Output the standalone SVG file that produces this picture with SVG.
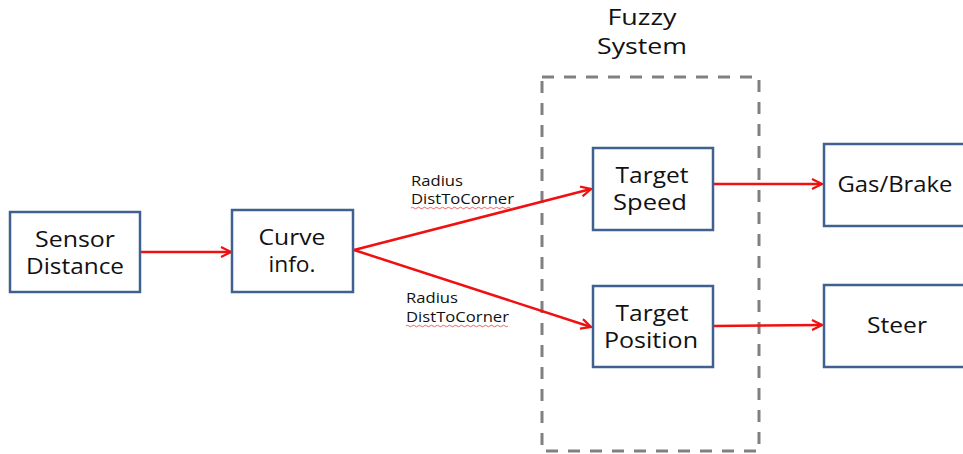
<svg xmlns="http://www.w3.org/2000/svg" width="963" height="454" viewBox="0 0 963 454">
<style>
.box{fill:#fff;stroke:#40618f;stroke-width:2.5}
.t{font-family:"Open Sans","Noto Sans",sans-serif;font-size:21px;fill:#111;text-anchor:middle}
.s{font-family:"Open Sans","Noto Sans",sans-serif;font-size:14px;fill:#111}
.c{stroke:#f01010;stroke-width:2.5;fill:none;marker-end:url(#ah)}
.sq{stroke:#e04040;stroke-width:0.8;fill:none}
</style>
<defs>
<marker id="ah" viewBox="0 0 12 12" refX="11" refY="6" markerWidth="12" markerHeight="12" markerUnits="userSpaceOnUse" orient="auto">
<path d="M1,1 L11,6 L1,11" fill="none" stroke="#f01010" stroke-width="2.2"/>
</marker>
</defs>
<rect width="963" height="454" fill="#fff"/>
<g id="fuzzy">
<rect x="542" y="77" width="217" height="374" fill="none" stroke="#808080" stroke-width="3" stroke-dasharray="12 10"/>
<text class="t" x="642" y="25" textLength="69" lengthAdjust="spacingAndGlyphs">Fuzzy</text>
<text class="t" x="642" y="54" textLength="90" lengthAdjust="spacingAndGlyphs">System</text>
</g>
<g id="connectors">
<line class="c" x1="141" y1="252" x2="231" y2="252"/>
<line class="c" x1="354" y1="250" x2="591" y2="189"/>
<line class="c" x1="354" y1="250" x2="591" y2="327"/>
<line class="c" x1="714" y1="184" x2="822" y2="184"/>
<line class="c" x1="714" y1="326" x2="822" y2="325"/>
</g>
<g id="labels">
<text class="s" x="411" y="186" textLength="52" lengthAdjust="spacingAndGlyphs">Radius</text>
<text class="s" x="411" y="204" textLength="103" lengthAdjust="spacingAndGlyphs">DistToCorner</text>
<path class="sq" d="M411,208 q1.5,-1.5 3,0 t3,0 t3,0 t3,0 t3,0 t3,0 t3,0 t3,0 t3,0 t3,0 t3,0 t3,0 t3,0 t3,0 t3,0 t3,0 t3,0 t3,0 t3,0 t3,0 t3,0 t3,0 t3,0 t3,0 t3,0 t3,0 t3,0 t3,0 t3,0 t3,0 t3,0 t3,0 t3,0 t3,0"/>
<text class="s" x="406" y="303" textLength="52" lengthAdjust="spacingAndGlyphs">Radius</text>
<text class="s" x="406" y="322" textLength="103" lengthAdjust="spacingAndGlyphs">DistToCorner</text>
<path class="sq" d="M406,326 q1.5,-1.5 3,0 t3,0 t3,0 t3,0 t3,0 t3,0 t3,0 t3,0 t3,0 t3,0 t3,0 t3,0 t3,0 t3,0 t3,0 t3,0 t3,0 t3,0 t3,0 t3,0 t3,0 t3,0 t3,0 t3,0 t3,0 t3,0 t3,0 t3,0 t3,0 t3,0 t3,0 t3,0 t3,0 t3,0"/>
</g>
<g id="sensor">
<rect class="box" x="10" y="212" width="130" height="80"/>
<text class="t" x="75" y="247" textLength="80" lengthAdjust="spacingAndGlyphs">Sensor</text>
<text class="t" x="75" y="274" textLength="98" lengthAdjust="spacingAndGlyphs">Distance</text>
</g>
<g id="curve">
<rect class="box" x="232" y="210" width="121" height="82"/>
<text class="t" x="292" y="245" textLength="67" lengthAdjust="spacingAndGlyphs">Curve</text>
<text class="t" x="292" y="272" textLength="47" lengthAdjust="spacingAndGlyphs">info.</text>
</g>
<g id="speed">
<rect class="box" x="593" y="148" width="120" height="82"/>
<text class="t" x="652" y="183" textLength="73" lengthAdjust="spacingAndGlyphs">Target</text>
<text class="t" x="650" y="210" textLength="74" lengthAdjust="spacingAndGlyphs">Speed</text>
</g>
<g id="position">
<rect class="box" x="593" y="286" width="120" height="81"/>
<text class="t" x="652" y="321" textLength="73" lengthAdjust="spacingAndGlyphs">Target</text>
<text class="t" x="651" y="348" textLength="94" lengthAdjust="spacingAndGlyphs">Position</text>
</g>
<g id="gas">
<rect class="box" x="824" y="144" width="150" height="82"/>
<text class="t" x="895" y="192" textLength="115" lengthAdjust="spacingAndGlyphs">Gas/Brake</text>
</g>
<g id="steer">
<rect class="box" x="824" y="285" width="150" height="82"/>
<text class="t" x="897" y="333" textLength="60" lengthAdjust="spacingAndGlyphs">Steer</text>
</g>
</svg>
